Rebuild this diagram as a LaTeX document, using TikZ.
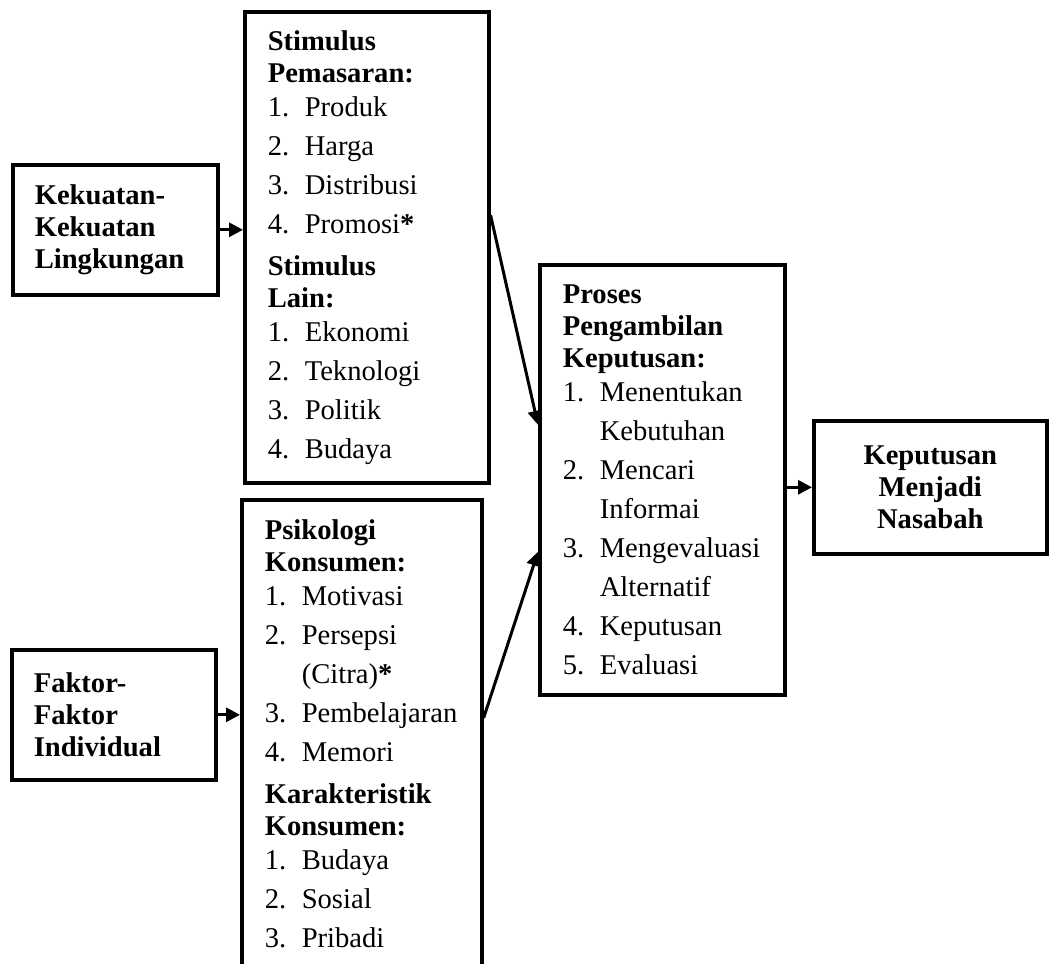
\documentclass[tikz,border=0pt]{standalone}
\usepackage{fontspec}
\setmainfont{Liberation Serif}
\usetikzlibrary{arrows.meta}
\tikzstyle{box} = [rectangle, draw, line width=1.8pt, anchor=north west,
    inner xsep=11.5pt, align=left, font=\fontsize{14.3}{16}\selectfont]
\tikzstyle{line} = [draw, line width=1.5pt, -{Triangle[length=7pt,width=7pt]}]
\newcommand{\nmr}[2]{\makebox[18.5pt][l]{#1}#2}
\newcommand{\lanjut}[1]{\hspace*{18.5pt}#1}

\begin{document}
\begin{tikzpicture}[x=0.5pt, y=-0.5pt]
      \path [use as bounding box, fill=white] (0,0) rectangle (1057,964);
      \node [box, font=\fontsize{14.3}{16}\selectfont\bfseries, inner xsep=11pt,
        minimum width=102.5pt, minimum height=65pt, text width=80.5pt] (kek) at (11,163)
        {Kekuatan-\\Kekuatan\\Lingkungan};
      \node [box, minimum width=122pt, minimum height=235.5pt, text width=99pt] (stim) at (243,10)
        {\textbf{Stimulus}\\\textbf{Pemasaran:}\\[1pt]
         \nmr{1.}{Produk}\\[3.5pt]
         \nmr{2.}{Harga}\\[3.5pt]
         \nmr{3.}{Distribusi}\\[3.5pt]
         \nmr{4.}{Promosi\textbf{*}}\\[5pt]
         \textbf{Stimulus}\\\textbf{Lain:}\\[1pt]
         \nmr{1.}{Ekonomi}\\[3.5pt]
         \nmr{2.}{Teknologi}\\[3.5pt]
         \nmr{3.}{Politik}\\[3.5pt]
         \nmr{4.}{Budaya}};
      \node [box, font=\fontsize{14.3}{16}\selectfont\bfseries, inner xsep=11pt,
        minimum width=102pt, minimum height=65pt, text width=80pt] (fak) at (10,648)
        {Faktor-\\Faktor\\Individual};
      \node [box, inner ysep=9.7pt, minimum width=120pt, text width=97pt] (psik) at (240,498)
        {\textbf{Psikologi}\\\textbf{Konsumen:}\\[1pt]
         \nmr{1.}{Motivasi}\\[3.5pt]
         \nmr{2.}{Persepsi}\\[3.5pt]
         \lanjut{(Citra)\textbf{*}}\\[3.5pt]
         \nmr{3.}{Pembelajaran}\\[3.5pt]
         \nmr{4.}{Memori}\\[5pt]
         \textbf{Karakteristik}\\\textbf{Konsumen:}\\[1pt]
         \nmr{1.}{Budaya}\\[3.5pt]
         \nmr{2.}{Sosial}\\[3.5pt]
         \nmr{3.}{Pribadi}\\[20pt]\mbox{}};
      \node [box, minimum width=122.5pt, minimum height=215pt, text width=99.5pt] (proses) at (538,263)
        {\textbf{Proses}\\\textbf{Pengambilan}\\\textbf{Keputusan:}\\[1pt]
         \nmr{1.}{Menentukan}\\[3.5pt]
         \lanjut{Kebutuhan}\\[3.5pt]
         \nmr{2.}{Mencari}\\[3.5pt]
         \lanjut{Informai}\\[3.5pt]
         \nmr{3.}{Mengevaluasi}\\[3.5pt]
         \lanjut{Alternatif}\\[3.5pt]
         \nmr{4.}{Keputusan}\\[3.5pt]
         \nmr{5.}{Evaluasi}};
      \node [box, align=center, font=\fontsize{14.3}{16}\selectfont\bfseries,
        minimum width=115.5pt, minimum height=66.5pt, text width=93.5pt] (kep) at (812,419)
        {Keputusan\\Menjadi\\Nasabah};
      \path [line] (kek.east) -- (kek.east -| stim.west);
      \path [line] (fak.east) -- (fak.east -| psik.west);
      \path [line] ([yshift=16pt]stim.east) -- ([yshift=27.5pt]proses.west);
      \path [line] ([yshift=-110pt]psik.north east) -- ([yshift=-36pt]proses.west);
      \path [line] (kep.west -| proses.east) -- (kep.west);
  \end{tikzpicture}
\end{document}
